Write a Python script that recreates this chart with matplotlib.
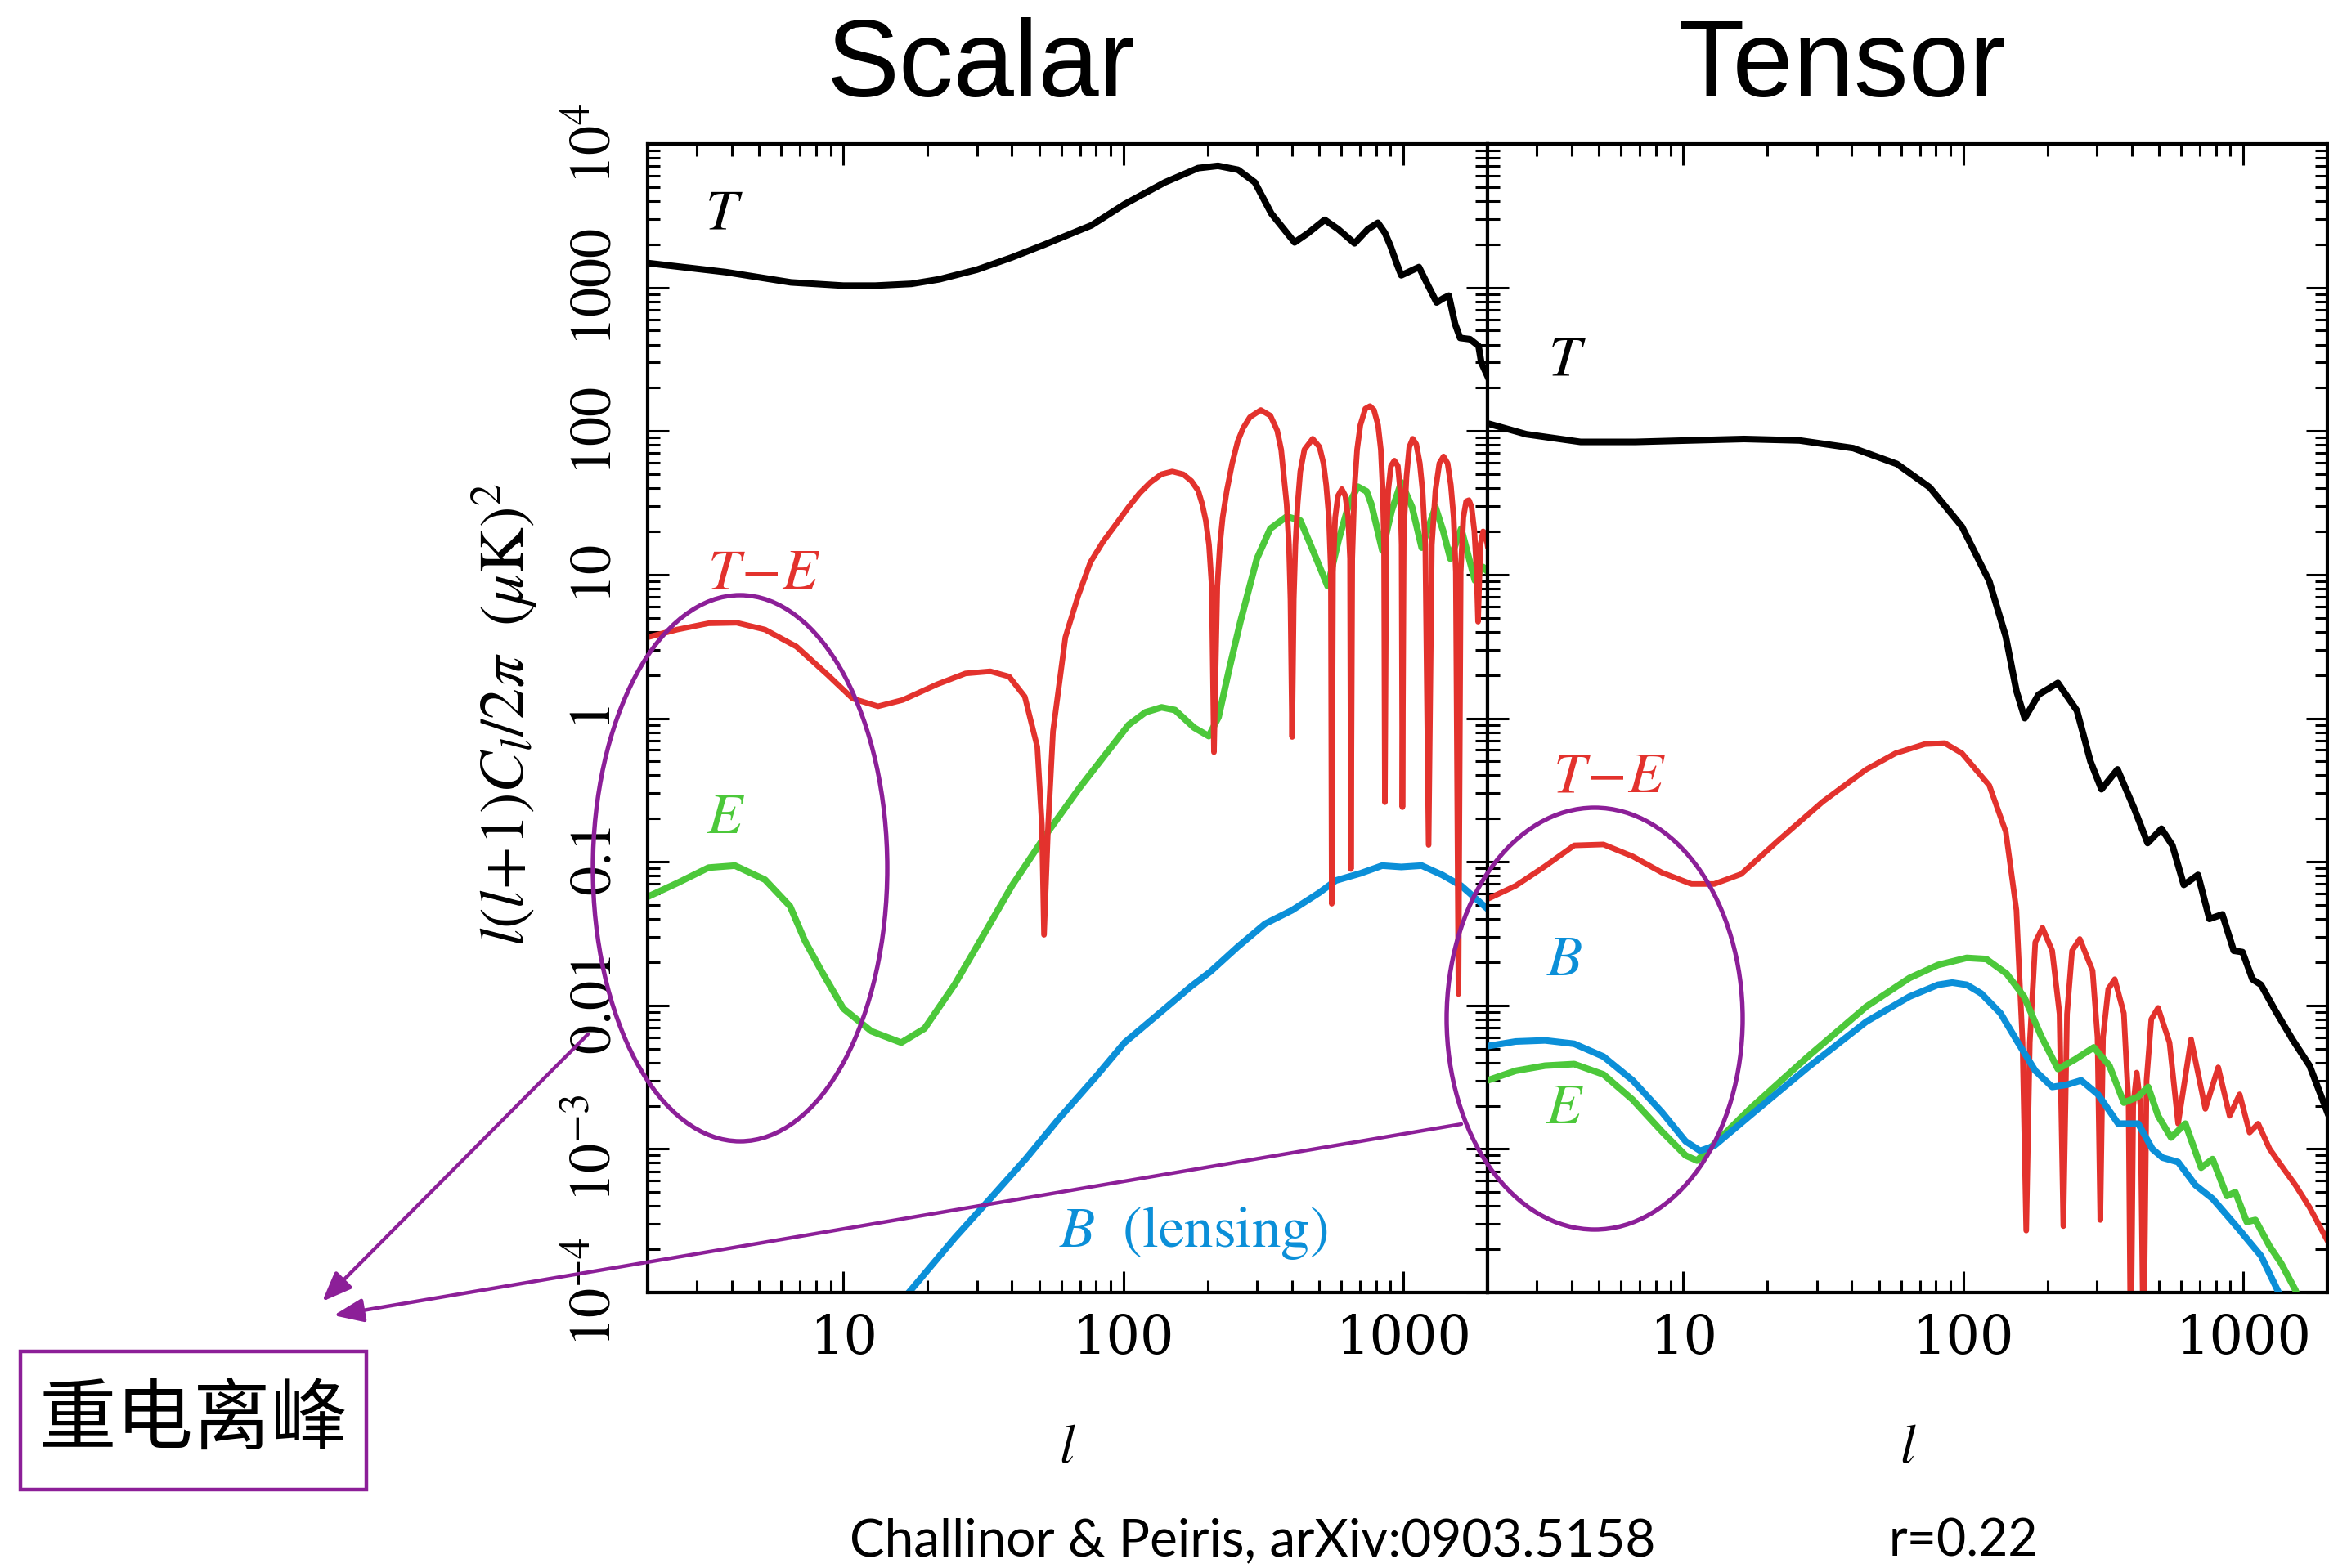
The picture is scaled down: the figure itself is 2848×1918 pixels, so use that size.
import matplotlib
matplotlib.use("Agg")
import matplotlib.pyplot as plt
from matplotlib.patches import Ellipse, Rectangle, FancyArrowPatch, ArrowStyle
from matplotlib.ticker import FixedLocator, FixedFormatter, LogLocator, NullFormatter

plt.rcParams["mathtext.fontset"] = "stix"

# ---- scalar perturbations: l(l+1)C_l/2pi in muK^2 ----
ell_t_s = [2, 3.8, 6.5, 10, 13, 17.5, 22, 30, 40, 52,
           77, 101, 141, 185, 218, 257, 295, 338, 409, 457,
           524, 585, 670, 748, 812, 860, 900, 950, 984, 1060,
           1138, 1230, 1316, 1390, 1455, 1530, 1596, 1731, 1858, 1900,
           2000]
t_s = [1480, 1280, 1085, 1030, 1030, 1060, 1140, 1330, 1620, 1980,
       2710, 3800, 5400, 6780, 7030, 6600, 5400, 3270, 2060, 2390,
       2960, 2550, 2030, 2550, 2820, 2400, 1950, 1450, 1216, 1300,
       1387, 1020, 786, 840, 877, 560, 445, 436, 391, 300,
       241]

ell_te_s = [2, 2.55, 3.3, 4.16, 5.25, 6.8, 8.8, 10.8, 13.3, 16.3,
            21.6, 27.3, 33.5, 39.1, 44.5, 49.3, 51.2, 52.1, 53.9, 56.1,
            62.1, 68.8, 76.3, 84.6, 93.8, 104.5, 114.3, 125, 136.8, 149.6,
            163.7, 175.1, 185.1, 191.4, 197.1, 202.4, 207, 210.8, 216.7, 221.4,
            226.4, 234.3, 244.9, 256.2, 268, 283.4, 309.9, 335.2, 354.5, 366.4,
            374.7, 383.3, 390.6, 395.5, 401, 406.3, 411.9, 419.5, 428.8, 443.5,
            474.6, 502.2, 518.9, 530.6, 542.7, 551.5, 555.4, 561.1, 571.3, 584.3,
            603.4, 621.3, 635.7, 645.7, 650.3, 657.4, 669.1, 684.2, 702.8, 731.9,
            760.4, 786, 812.9, 831.7, 844.9, 854, 859.9, 869.7, 883.7, 903.8,
            929.9, 956.7, 975.7, 986.6, 993.3, 1004.5, 1027, 1051, 1081, 1113,
            1146, 1172, 1199, 1232, 1265, 1303, 1346, 1393, 1440, 1479,
            1514, 1541, 1575, 1604, 1639, 1678, 1716, 1754, 1795, 1829,
            1850, 1886, 1929, 1972, 2000]
te_s = [3.66, 4.14, 4.58, 4.62, 4.14, 3.15, 2.0, 1.37, 1.21, 1.34,
        1.72, 2.05, 2.12, 1.95, 1.41, 0.63, 0.18, 0.031, 0.18, 0.81,
        3.66, 7.0, 12.2, 16.9, 22.2, 29.6, 36.9, 43.9, 50, 52.3,
        50, 44.9, 38.5, 31, 23.8, 16.1, 8.3, 0.58, 8.3, 16.1,
        24.9, 38.5, 59.6, 84.6, 105, 125, 140, 128, 101, 74.2,
        47.9, 31, 16.1, 6.7, 0.74, 6.7, 16.1, 31, 52.3, 74.2,
        88.3, 77.4, 59.6, 42.1, 24.9, 10.4, 0.051, 10.4, 24.9, 35.3,
        39.4, 35.3, 24.9, 12.9, 0.089, 12.9, 38.5, 74.2, 110, 143,
        149, 140, 110, 74.2, 38.5, 16.1, 0.26, 16.1, 38.5, 57.1,
        62.2, 57.1, 38.5, 16.1, 0.24, 20, 47.9, 77.4, 88.3, 81,
        59.6, 38.5, 16.1, 0.131, 16.1, 38.5, 59.6, 66.5, 59.6, 42.1,
        24.9, 10.4, 0.012, 10.4, 24.9, 32.4, 33, 29.6, 20, 10.4,
        4.7, 16.1, 20, 19.1, 16]

ell_e_s = [2, 2.55, 3.3, 4.1, 5.25, 6.45, 7.3, 8.4, 10, 12.6,
           16.1, 19.5, 25, 32, 40, 53, 70, 90, 104.5, 120,
           137, 153, 179, 202, 219, 239, 262, 300, 335, 384,
           429, 480, 537, 588, 640, 688, 740, 769, 842, 910,
           984, 1075, 1164, 1303, 1390, 1473, 1611, 1700, 1803, 1928,
           2000]
e_s = [0.057, 0.071, 0.091, 0.094, 0.075, 0.049, 0.028, 0.017, 0.0095, 0.0066,
       0.0055, 0.0069, 0.014, 0.032, 0.068, 0.155, 0.33, 0.62, 0.90, 1.10,
       1.19, 1.14, 0.86, 0.75, 1.02, 2.2, 4.7, 12.9, 20.9, 25.4,
       23.8, 14.1, 8.3, 17.5, 31, 41, 38, 31, 14.7, 28,
       44, 29.6, 15.4, 29.6, 20, 12.9, 20.9, 14, 9.1, 11.3,
       10.5]

ell_b_s = [15, 17.5, 25, 33.8, 45, 58.5, 80, 101, 140, 175,
           205, 256, 321, 401, 502, 574, 703, 841, 984, 1164,
           1377, 1611, 1928, 2000]
b_s = [7.4e-5, 1.05e-4, 2.4e-4, 4.6e-4, 8.6e-4, 0.0016, 0.0032, 0.0055, 0.0094, 0.0136,
       0.0172, 0.0255, 0.037, 0.046, 0.061, 0.074, 0.083, 0.094, 0.092, 0.094,
       0.081, 0.068, 0.050, 0.047]

# ---- tensor perturbations (r = 0.22) ----
ell_t_t = [2, 2.75, 4.3, 6.75, 10.5, 16.5, 26, 40.5, 58, 76,
           99, 124, 142, 155, 166, 186, 218, 255, 285, 312,
           356, 408, 456, 511, 559, 614, 690, 758, 843, 926,
           995, 1080, 1159, 1303, 1500, 1728, 2000]
t_t = [113, 95, 84, 84, 86, 88, 86, 76, 59, 40.5,
       21.6, 9.0, 3.7, 1.55, 1.0, 1.46, 1.76, 1.13, 0.50, 0.32,
       0.44, 0.236, 0.135, 0.17, 0.13, 0.069, 0.081, 0.040, 0.043, 0.024,
       0.0235, 0.0152, 0.0139, 0.0092, 0.0058, 0.0038, 0.0018]

ell_te_t = [2, 2.52, 3.21, 4.08, 5.19, 6.6, 8.4, 10.7, 12.9, 16.1,
            21.9, 31.5, 45.1, 57.4, 73, 86, 99, 124, 142, 155,
            163, 168, 173, 181, 192, 208, 221, 228, 235, 245,
            261, 290, 302, 309, 316, 330, 348, 375, 390, 397,
            405, 417, 430, 441, 452, 470, 497, 546, 586, 652,
            733, 815, 895, 972, 1055, 1132, 1244, 1367, 1538, 1730,
            2000]
te_t = [0.055, 0.068, 0.093, 0.130, 0.132, 0.109, 0.084, 0.070, 0.070, 0.082,
        0.141, 0.262, 0.44, 0.57, 0.66, 0.67, 0.57, 0.34, 0.162, 0.046,
        0.0055, 2.7e-4, 0.0055, 0.0275, 0.0347, 0.024, 0.0087, 2.9e-4, 0.0087, 0.024,
        0.029, 0.0174, 0.006, 3.2e-4, 0.006, 0.013, 0.0152, 0.0088, 0.002, 3e-5,
        0.002, 0.0034, 0.002, 3e-5, 0.003, 0.008, 0.0096, 0.0055, 0.0015, 0.0058,
        0.0019, 0.0037, 0.0017, 0.0024, 0.0013, 0.0015, 0.0010, 7.7e-4, 5.6e-4, 3.9e-4,
        2.3e-4]

ell_e_t = [2, 2.52, 3.21, 4.08, 5.19, 6.6, 8.4, 10.2, 11.2, 12.9,
           17.3, 27.9, 45.1, 64.3, 81.3, 103, 121, 143, 165, 190,
           218, 251, 293, 333, 375, 420, 458, 497, 553, 622,
           708, 778, 875, 938, 1031, 1107, 1244, 1367, 1538, 1700]
e_t = [0.0030, 0.0035, 0.0038, 0.0039, 0.0033, 0.0022, 0.00132, 9.0e-4, 8.3e-4, 0.00108,
       0.0019, 0.0044, 0.0098, 0.0155, 0.0191, 0.0214, 0.021, 0.0166, 0.0115, 0.0061,
       0.0036, 0.0042, 0.0051, 0.0038, 0.0021, 0.0023, 0.0027, 0.0017, 0.0012, 0.0015,
       7.4e-4, 8.5e-4, 4.7e-4, 5.0e-4, 3.1e-4, 3.2e-4, 2.1e-4, 1.6e-4, 1.04e-4, 6e-5]

ell_b_t = [2, 2.52, 3.21, 4.08, 5.19, 6.6, 8.4, 10.2, 11.5, 12.9,
           17.3, 27.9, 45.1, 64.3, 81.3, 91.4, 103, 116, 136, 157,
           181, 208, 235, 264, 303, 358, 422, 474, 515, 586,
           675, 778, 960, 1159, 1340, 1500]
b_t = [0.0052, 0.0056, 0.0057, 0.0054, 0.0044, 0.0030, 0.0018, 0.00113, 9.7e-4, 0.00105,
       0.0017, 0.0037, 0.0077, 0.0115, 0.0139, 0.0144, 0.0139, 0.0121, 0.0088, 0.0055,
       0.0035, 0.0027, 0.0028, 0.0030, 0.0024, 0.0015, 0.0015, 0.0010, 8.7e-4, 8.1e-4,
       5.6e-4, 4.5e-4, 2.8e-4, 1.8e-4, 1.0e-4, 6e-5]

y_ticks = [1e-4, 1e-3, 1e-2, 1e-1, 1, 10, 100, 1000, 1e4]
y_ticklabels = [r"$10^{-4}$", r"$10^{-3}$", r"$0.01$", r"$0.1$", r"$1$",
                r"$10$", r"$100$", r"$1000$", r"$10^{4}$"]
x_ticks = [10, 100, 1000]
x_ticklabels = ["10", "100", "1000"]

BLACK = "#000000"
RED = "#e3322d"
GREEN = "#4cc83a"
BLUE = "#0b8fd8"
PURPLE = "#8c1f98"

W, H = 2848, 1918
fig = plt.figure(figsize=(W / 100, H / 100), dpi=100)
fig.patch.set_facecolor("white")


def px_rect(x0, y0, x1, y1):
    return [x0 / W, 1 - y1 / H, (x1 - x0) / W, (y1 - y0) / H]


ax_s = fig.add_axes(px_rect(792, 176, 1819, 1581))
ax_t = fig.add_axes(px_rect(1819, 176, 2846, 1581))

for ax in (ax_s, ax_t):
    ax.set_xscale("log")
    ax.set_yscale("log")
    ax.set_xlim(2, 2000)
    ax.set_ylim(1e-4, 1e4)
    ax.xaxis.set_major_locator(FixedLocator(x_ticks))
    ax.xaxis.set_major_formatter(FixedFormatter(x_ticklabels))
    ax.xaxis.set_minor_locator(LogLocator(base=10, subs=range(2, 10), numticks=30))
    ax.xaxis.set_minor_formatter(NullFormatter())
    ax.yaxis.set_major_locator(FixedLocator(y_ticks))
    ax.yaxis.set_minor_locator(LogLocator(base=10, subs=range(2, 10), numticks=30))
    ax.yaxis.set_minor_formatter(NullFormatter())
    ax.tick_params(which="both", direction="in", top=True, right=True, width=2.2)
    ax.tick_params(which="major", length=19)
    ax.tick_params(which="minor", length=11)
    ax.tick_params(axis="x", labelsize=47, pad=18)
    for lab in ax.get_xticklabels():
        lab.set_fontfamily("DejaVu Serif")
    for sp in ax.spines.values():
        sp.set_linewidth(3)

ax_s.yaxis.set_major_formatter(FixedFormatter(y_ticklabels))
ax_s.tick_params(axis="y", labelsize=52, pad=22, labelrotation=90)
for lab in ax_s.get_yticklabels():
    lab.set_verticalalignment("center")
ax_t.tick_params(axis="y", labelleft=False)

lw = 5.8
ax_s.plot(ell_t_s, t_s, color=BLACK, lw=lw, solid_joinstyle="round")
ax_s.plot(ell_b_s, b_s, color=BLUE, lw=lw, solid_joinstyle="round")
ax_s.plot(ell_e_s, e_s, color=GREEN, lw=lw, solid_joinstyle="round")
ax_s.plot(ell_te_s, te_s, color=RED, lw=lw * 0.85, solid_joinstyle="round")

ax_t.plot(ell_t_t, t_t, color=BLACK, lw=lw, solid_joinstyle="round")
ax_t.plot(ell_te_t, te_t, color=RED, lw=lw * 0.85, solid_joinstyle="round")
ax_t.plot(ell_b_t, b_t, color=BLUE, lw=lw, solid_joinstyle="round", zorder=3)
ax_t.plot(ell_e_t, e_t, color=GREEN, lw=lw, solid_joinstyle="round", zorder=2.9)

# curve labels
lab_kw = dict(fontsize=51, ha="center", va="center")
ax_s.text(0.091, 0.940, r"$T$", color=BLACK, transform=ax_s.transAxes, **lab_kw)
ax_s.text(0.138, 0.627, r"$T\!-\!E$", color=RED, transform=ax_s.transAxes, **lab_kw)
ax_s.text(0.093, 0.414, r"$E$", color=GREEN, transform=ax_s.transAxes, **lab_kw)
ax_s.text(0.650, 0.052, r"$B\ \ \mathrm{(lensing)}$", color=BLUE,
          transform=ax_s.transAxes, **lab_kw)
ax_t.text(0.095, 0.813, r"$T$", color=BLACK, transform=ax_t.transAxes, **lab_kw)
ax_t.text(0.145, 0.450, r"$T\!-\!E$", color=RED, transform=ax_t.transAxes, **lab_kw)
ax_t.text(0.092, 0.290, r"$B$", color=BLUE, transform=ax_t.transAxes, **lab_kw)
ax_t.text(0.092, 0.161, r"$E$", color=GREEN, transform=ax_t.transAxes, **lab_kw)

# axis labels and titles
fig.text(1305 / W, 1 - 1770 / H, r"$l$", fontsize=48, ha="center", va="center")
fig.text(2333 / W, 1 - 1770 / H, r"$l$", fontsize=48, ha="center", va="center")
fig.text(617 / W, 1 - 874 / H, r"$l(l\!+\!1)C_l/2\pi\ \ (\mu\mathrm{K})^2$",
         fontsize=55, rotation=90, ha="center", va="center")
fig.text(1200 / W, 1 - 118 / H, "Scalar", fontsize=96, family="Liberation Sans",
         ha="center", va="baseline")
fig.text(2252 / W, 1 - 118 / H, "Tensor", fontsize=96, family="Liberation Sans",
         ha="center", va="baseline")
fig.text(1039 / W, 1 - 1903 / H, "Challinor & Peiris, arXiv:0903.5158", fontsize=46,
         family="Lato", ha="left", va="baseline")
fig.text(2310 / W, 1 - 1903 / H, "r=0.22", fontsize=45, family="Lato",
         ha="left", va="baseline")

# reionization annotations, drawn in pixel space on a transparent overlay
ov = fig.add_axes([0, 0, 1, 1], zorder=10)
ov.set_xlim(0, W)
ov.set_ylim(H, 0)
ov.axis("off")
ov.patch.set_alpha(0)

ov.add_patch(Ellipse((905, 1062), 360, 668, fill=False, ec=PURPLE, lw=3.9))
ov.add_patch(Ellipse((1950, 1246), 362, 516, fill=False, ec=PURPLE, lw=3.9))
head = ArrowStyle("-|>", head_length=0.55, head_width=0.22)
for start, tip in [((719, 1265), (394, 1592)), ((1787, 1375), (408, 1609))]:
    ov.add_patch(FancyArrowPatch(start, tip, arrowstyle=head, mutation_scale=40,
                                 color=PURPLE, lw=3.2, shrinkA=0, shrinkB=0))
ov.add_patch(Rectangle((25, 1653), 423, 169, fill=False, ec=PURPLE, lw=3.2))
ov.text(236, 1738, "重电离峰", fontsize=68, family=["Noto Sans CJK SC", "DejaVu Sans"],
        ha="center", va="center")

fig.savefig("out.png", dpi=100, facecolor="white")
